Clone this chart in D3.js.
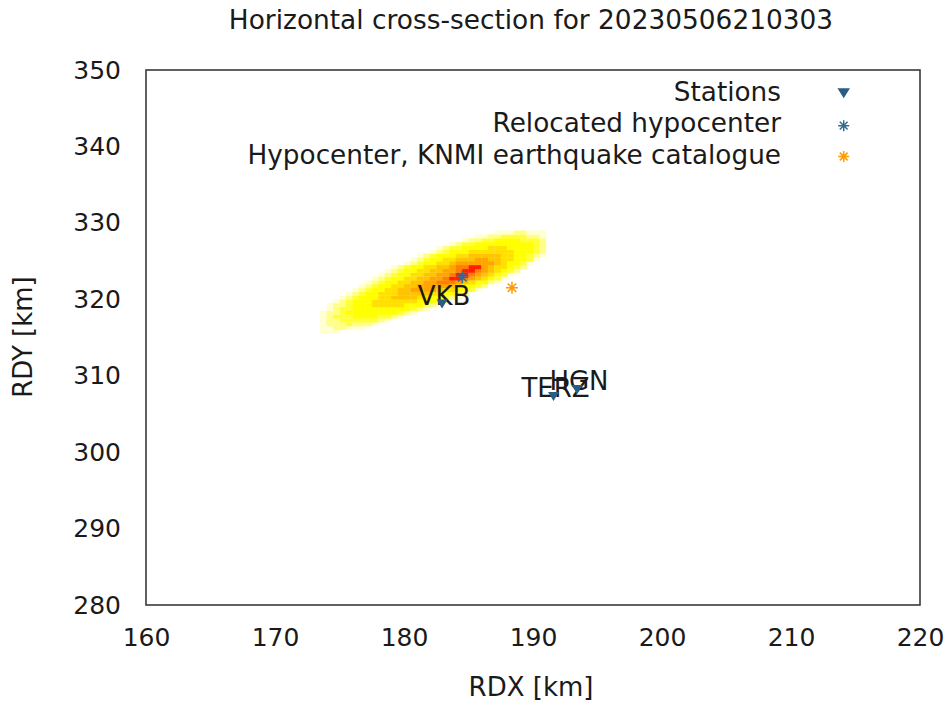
<!DOCTYPE html>
<html>
<head>
<meta charset="utf-8">
<script src="https://cdn.jsdelivr.net/npm/d3@7"></script>
<style>
  html, body { margin: 0; padding: 0; background: #fff; }
  svg { display: block; }
  text { font-family: "DejaVu Sans", sans-serif; fill: #1a1a1a; }
</style>
</head>
<body>
<svg id="chart" width="949" height="704"></svg>
<script>
// ---------------- data ----------------
const chartTitle = "Horizontal cross-section for 20230506210303";
const xLabel = "RDX [km]";
const yLabel = "RDY [km]";
const xTicks = [160, 170, 180, 190, 200, 210, 220];
const yTicks = [280, 290, 300, 310, 320, 330, 340, 350];

const stationNames = ["VKB", "TERZ", "HGN"];
const stationX = [182.95, 191.59, 193.41];
const stationY = [319.38, 307.28, 308.20];

const relocatedX = [184.52];
const relocatedY = [322.88];
const knmiX = [188.37];
const knmiY = [321.52];

const legendLabels = ["Stations", "Relocated hypocenter", "Hypocenter, KNMI earthquake catalogue"];

// density grid (0.5 km cells), origin of cell (0,0) at RDX 172.5, RDY 315
const gridX0 = 172.5, gridY0 = 315, gridStep = 0.5;
// [row j, first column i, levels 1..9 for consecutive columns]
const densityRows = [
  [1, 2, "111"],
  [2, 2, "1122111"],
  [3, 2, "122232221"],
  [4, 2, "12233333321"],
  [5, 2, "1233344443321"],
  [6, 2, "122344444444321"],
  [7, 3, "1233444444444321"],
  [8, 3, "122344455555444321"],
  [9, 4, "123444555555544432"],
  [10, 5, "1234445566665544321"],
  [11, 6, "1234455566666554432"],
  [12, 7, "12344556677776554431"],
  [13, 8, "12344556677777654432"],
  [14, 9, "123445566778887654421"],
  [15, 10, "123445566778998765431"],
  [16, 11, "123445566778998765431"],
  [17, 12, "123445566778998765432"],
  [18, 13, "123445566788997655432"],
  [19, 15, "12344556777777654431"],
  [20, 16, "12344556667766554431"],
  [21, 17, "12344455666665544321"],
  [22, 19, "123444555555544432"],
  [23, 20, "12334444555444432"],
  [24, 22, "123344444444432"],
  [25, 24, "1223344443332"],
  [26, 26, "11223333221"],
  [27, 29, "11122111"]
];

// ---------------- styles ----------------
const levelColors = ["none", "#ffffd0", "#ffff88", "#ffff38", "#ffff00", "#ffe000", "#ffc400", "#ffa400", "#ff8000", "#ff2000"];
const stationColor = "#2b5d84";
const relocColor = "#336b93";
const knmiColor = "#ff9a00";

// ---------------- chart ----------------
const svg = d3.select("#chart");
const x = d3.scaleLinear().domain([160, 220]).range([146, 920]);
const y = d3.scaleLinear().domain([280, 350]).range([605, 70]);

// heatmap cells
const cells = [];
densityRows.forEach(([j, i0, s]) => {
  for (let k = 0; k < s.length; k++) {
    const lv = +s[k];
    if (lv > 0) cells.push({ i: i0 + k, j: j, lv: lv });
  }
});
svg.append("g").selectAll("rect").data(cells).join("rect")
  .attr("x", d => x(gridX0 + d.i * gridStep))
  .attr("y", d => y(gridY0 + (d.j + 1) * gridStep))
  .attr("width", d => x(gridX0 + (d.i + 1) * gridStep) - x(gridX0 + d.i * gridStep) + 0.3)
  .attr("height", d => y(gridY0 + d.j * gridStep) - y(gridY0 + (d.j + 1) * gridStep) + 0.3)
  .attr("fill", d => levelColors[d.lv]);

// frame
svg.append("rect")
  .attr("x", x(160)).attr("y", y(350))
  .attr("width", x(220) - x(160)).attr("height", y(280) - y(350))
  .attr("fill", "none").attr("stroke", "#3a3a3a").attr("stroke-width", 1.6);

// axes
const gx = svg.append("g").attr("transform", `translate(0,${y(280)})`)
  .call(d3.axisBottom(x).tickValues(xTicks).tickSize(0).tickPadding(23.5).tickFormat(d3.format("d")));
const gy = svg.append("g").attr("transform", `translate(${x(160)},0)`)
  .call(d3.axisLeft(y).tickValues(yTicks).tickSize(0).tickPadding(25).tickFormat(d3.format("d")));
[gx, gy].forEach(g => {
  g.select(".domain").remove();
  g.selectAll("text").attr("font-family", "DejaVu Sans").attr("font-size", 25).attr("fill", "#1a1a1a");
});

// title and axis labels
svg.append("text").attr("x", 531).attr("y", 28.5).attr("text-anchor", "middle")
  .attr("font-size", 26.4).text(chartTitle);
svg.append("text").attr("x", 531).attr("y", 695.5).attr("text-anchor", "middle")
  .attr("font-size", 26).text(xLabel);
svg.append("text").attr("transform", "translate(31.5,337) rotate(-90)").attr("text-anchor", "middle")
  .attr("font-size", 26).text(yLabel);

// symbols
function asterisk(g, cx, cy, r, color) {
  const a = r * 0.7071;
  const p = d3.path();
  p.moveTo(cx - r, cy); p.lineTo(cx + r, cy);
  p.moveTo(cx, cy - r); p.lineTo(cx, cy + r);
  p.moveTo(cx - a, cy - a); p.lineTo(cx + a, cy + a);
  p.moveTo(cx - a, cy + a); p.lineTo(cx + a, cy - a);
  g.append("path").attr("d", p.toString()).attr("stroke", color).attr("stroke-width", 1.5).attr("fill", "none");
}
function triDown(g, cx, cy, w, h, color) {
  g.append("path")
    .attr("d", `M${cx - w / 2},${cy - h / 2}L${cx + w / 2},${cy - h / 2}L${cx},${cy + h / 2}Z`)
    .attr("fill", color);
}

const marks = svg.append("g");
// station labels
stationNames.forEach((n, k) => {
  marks.append("text").attr("x", x(stationX[k]) + 2).attr("y", y(stationY[k]) + 0.5)
    .attr("text-anchor", "middle").attr("font-size", 26).text(n);
});
knmiX.forEach((v, k) => asterisk(marks, x(v), y(knmiY[k]), 6, knmiColor));
relocatedX.forEach((v, k) => asterisk(marks, x(v), y(relocatedY[k]), 6, relocColor));
stationNames.forEach((n, k) => triDown(marks, x(stationX[k]), y(stationY[k]), 11, 9, stationColor));

// legend
const lg = svg.append("g");
const legendBase = [101, 132.3, 163.5];
legendLabels.forEach((t, k) => {
  lg.append("text").attr("x", 781).attr("y", legendBase[k]).attr("text-anchor", "end")
    .attr("font-size", 26.3).text(t);
});
triDown(lg, 843.7, 93.3, 12.5, 10, stationColor);
asterisk(lg, 843.7, 125.7, 5.5, relocColor);
asterisk(lg, 843.7, 156.5, 5.5, knmiColor);
</script>
</body>
</html>
